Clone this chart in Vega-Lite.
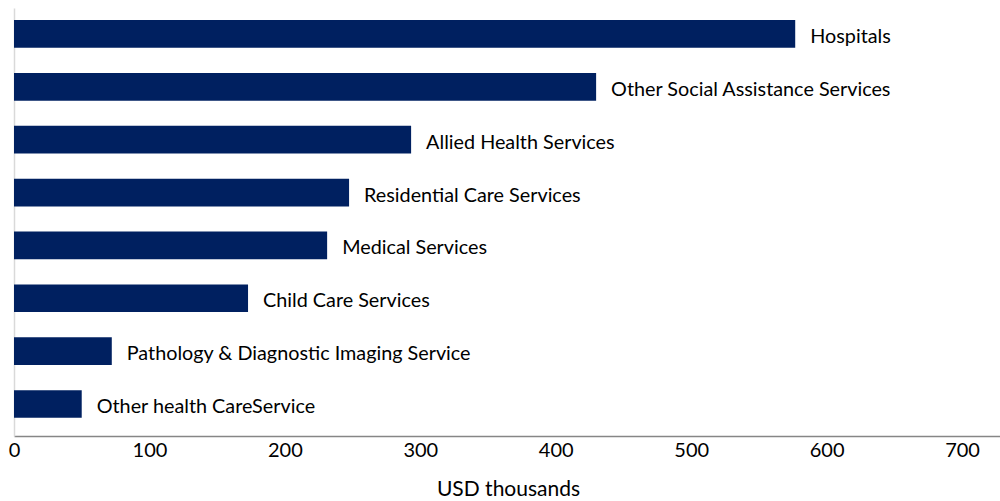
{
  "$schema": "https://vega.github.io/schema/vega-lite/v6.json",
  "autosize": {"type": "none"},
  "width": 986,
  "height": 428,
  "padding": {"left": 14, "top": 8, "right": 0, "bottom": 65},
  "background": "white",
  "config": {"view": {"stroke": null}, "font": "Lato"},
  "data": {
    "values": [
      {"category": "Hospitals", "value": 576.8},
      {"category": "Other Social Assistance Services", "value": 429.8},
      {"category": "Allied Health Services", "value": 293.2},
      {"category": "Residential Care Services", "value": 247.4},
      {"category": "Medical Services", "value": 231.2},
      {"category": "Child Care Services", "value": 172.8},
      {"category": "Pathology & Diagnostic Imaging Service", "value": 72.2},
      {"category": "Other health CareService", "value": 50.0}
    ]
  },
  "encoding": {
    "y": {
      "field": "category",
      "type": "nominal",
      "sort": null,
      "scale": {"paddingInner": 0.476, "paddingOuter": 0.2865, "align": 0.4},
      "axis": {
        "title": null,
        "labels": false,
        "ticks": false,
        "domainColor": "#D9D9D9",
        "domainWidth": 1.5
      }
    },
    "x": {
      "field": "value",
      "type": "quantitative",
      "scale": {"domain": [0, 728], "nice": false},
      "axis": {
        "values": [0, 100, 200, 300, 400, 500, 600, 700],
        "grid": false,
        "ticks": false,
        "domainColor": "#868686",
        "domainWidth": 1.5,
        "labelFont": "Lato",
        "labelFontSize": 20,
        "labelColor": "#000000",
        "labelPadding": 4,
        "labelFlush": false,
        "title": "USD thousands",
        "titleFont": "Lato",
        "titleFontSize": 21,
        "titleFontWeight": "normal",
        "titleColor": "#000000",
        "titlePadding": 18,
        "titleX": 494
      }
    }
  },
  "layer": [
    {"mark": {"type": "bar", "color": "#002060"}},
    {
      "mark": {
        "type": "text",
        "align": "left",
        "baseline": "middle",
        "dx": 15,
        "dy": 3,
        "font": "Lato",
        "fontSize": 19.8,
        "color": "#000000"
      },
      "encoding": {"text": {"field": "category"}}
    }
  ]
}
